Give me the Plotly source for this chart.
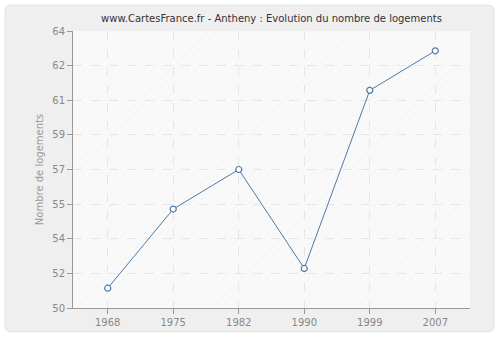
import plotly.graph_objects as go

years = ["1968", "1975", "1982", "1990", "1999", "2007"]
logements = [51, 55, 57, 52, 61, 63]
ytick_vals = [50 + 1.75 * i for i in range(9)]
ytick_text = ["50", "52", "54", "55", "57", "59", "61", "62", "64"]

W, H = 500, 340
L, R, T, B = 73, 30, 31, 30
pw, ph = W - L - R, H - T - B

def px(x):
    return (x - L) / pw

def py(y):
    return (H - B - y) / ph

xs = list(range(len(years)))
xr = [-0.53, len(years) - 1 + 0.53]

fig = go.Figure()
# hatched background
fig.add_trace(go.Scatter(
    x=[xr[0], xr[1], xr[1], xr[0], xr[0]], y=[50, 50, 64, 64, 50],
    mode="none", fill="toself", fillcolor="rgba(0,0,0,0)",
    fillpattern=dict(shape="/", fgcolor="rgba(210,210,210,0.35)", bgcolor="rgba(0,0,0,0)", size=6, solidity=0.15),
    hoverinfo="skip", showlegend=False,
))
fig.add_trace(go.Scatter(
    x=xs, y=logements, mode="lines+markers",
    line=dict(color="#4f7aa8", width=1),
    marker=dict(symbol="circle", size=6, color="white", line=dict(color="#4f7aa8", width=1.2)),
    showlegend=False,
))

# rounded outer panel
x0, y0, x1, y1 = px(5), py(5), px(494), py(334)
rx, ry = 6 / pw, 6 / ph
path = (f"M {x0+rx},{y0} L {x1-rx},{y0} Q {x1},{y0} {x1},{y0-ry} "
        f"L {x1},{y1+ry} Q {x1},{y1} {x1-rx},{y1} L {x0+rx},{y1} Q {x0},{y1} {x0},{y1+ry} "
        f"L {x0},{y0-ry} Q {x0},{y0} {x0+rx},{y0} Z")
fig.add_shape(type="path", path=path, xref="paper", yref="paper", layer="below",
              fillcolor="#efefef", line=dict(color="#e0e0e0", width=1))
fig.add_shape(type="rect", x0=0, x1=1, y0=0, y1=1, xref="paper", yref="paper", layer="below",
              fillcolor="#f9f9f9", line=dict(width=0))

fig.update_layout(
    width=W, height=H,
    margin=dict(l=L, r=R, t=T, b=B),
    paper_bgcolor="white", plot_bgcolor="#f9f9f9",
    font=dict(family="DejaVu Sans", color="#888888", size=10),
    title=dict(text="www.CartesFrance.fr - Antheny : Evolution du nombre de logements",
               x=0.5, xref="paper", y=1 - 18 / H, yanchor="middle",
               font=dict(size=10, color="#333333")),
    xaxis=dict(range=xr, tickvals=xs, ticktext=years, showgrid=True,
               gridcolor="#e6e6e6", griddash="dash", gridwidth=1,
               showline=True, linecolor="#999999", linewidth=1,
               ticks="outside", ticklen=5, tickcolor="#999999", zeroline=False,
               tickfont=dict(size=10, color="#888888")),
    yaxis=dict(range=[50, 64], tickvals=ytick_vals, ticktext=ytick_text, showgrid=True,
               gridcolor="#e6e6e6", griddash="dash", gridwidth=1,
               showline=True, linecolor="#999999", linewidth=1,
               ticks="outside", ticklen=5, tickcolor="#999999", zeroline=False,
               tickfont=dict(size=10, color="#888888"),
               title=dict(text="Nombre de logements", font=dict(size=10, color="#999999"), standoff=6)),
)

fig.write_html("out.html")
